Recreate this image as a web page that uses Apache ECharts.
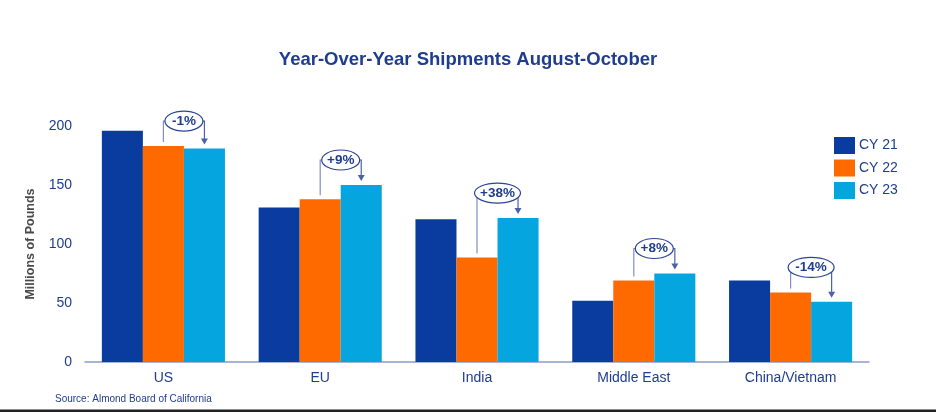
<!DOCTYPE html>
<html>
<head>
<meta charset="utf-8">
<script src="https://cdn.jsdelivr.net/npm/echarts@6/dist/echarts.min.js"></script>
<style>
  html, body { margin: 0; padding: 0; background: #ffffff; }
  #chart { width: 936px; height: 412px; }
</style>
</head>
<body>
<div id="chart"></div>
<script>
// 数据
const categories = ['US', 'EU', 'India', 'Middle East', 'China/Vietnam']
const cy21 = [196, 131, 121, 52, 69]
const cy22 = [183, 138, 88.5, 69, 59]
const cy23 = [181, 150, 122, 75, 51]
// CY22 -> CY23 变化
const changeLabels = ['-1%', '+9%', '+38%', '+8%', '-14%']
const yTicks = [0, 50, 100, 150, 200]

const textBlue = '#1f3d8f'
const barGapRatio = 0.215

const chart = echarts.init(document.getElementById('chart'))

/** 箭头标注 */
function renderChange(params, api) {
  const i = api.value(0)
  const p22 = api.coord([i, api.value(1)])
  const p23 = api.coord([i, api.value(2)])
  const band = api.size([1, 0])[0]
  const bw = band * (1 - barGapRatio) / 3
  const x22 = p22[0]
  const x23 = p22[0] + bw
  const ecx = (x22 + x23) / 2
  const ey = Math.min(p22[1], p23[1]) - 25
  const label = changeLabels[i]
  const rx = (label.length * 8 + 14) / 2
  const lineColor = '#4a62aa'
  return {
    type: 'group',
    children: [
      {
        type: 'polyline',
        shape: {points: [[x22, p22[1] - 4], [x22, ey], [ecx, ey]]},
        style: {stroke: '#7f90c4', lineWidth: 1.2, fill: null},
      },
      {
        type: 'polyline',
        shape: {points: [[ecx, ey], [x23, ey], [x23, p23[1] - 9]]},
        style: {stroke: lineColor, lineWidth: 1.2, fill: null},
      },
      {
        type: 'polygon',
        shape: {points: [[x23 - 3.5, p23[1] - 10], [x23 + 3.5, p23[1] - 10], [x23, p23[1] - 4]]},
        style: {fill: lineColor},
      },
      {
        type: 'ellipse',
        shape: {cx: ecx, cy: ey, rx: rx, ry: 10},
        style: {fill: '#ffffff', stroke: '#2a4596', lineWidth: 1.2},
      },
      {
        type: 'text',
        style: {
          x: ecx,
          y: ey,
          text: label,
          align: 'center',
          verticalAlign: 'middle',
          fill: textBlue,
          font: 'bold 13.5px "Liberation Sans", Arial, sans-serif',
        },
      },
    ],
  }
}

const option = {
  backgroundColor: '#ffffff',
  animation: false,
  textStyle: {fontFamily: '"Liberation Sans", Arial, sans-serif'},
  title: {
    text: 'Year-Over-Year Shipments August-October',
    left: 'center',
    top: 45,
    textStyle: {color: textBlue, fontSize: 18.5, fontWeight: 'bold', fontFamily: '"Liberation Sans", Arial, sans-serif'},
  },
  legend: {
    data: ['CY 21', 'CY 22', 'CY 23'],
    orient: 'vertical',
    left: 834,
    top: 137,
    padding: 0,
    itemWidth: 21,
    itemHeight: 17,
    itemGap: 5.5,
    icon: 'rect',
    textStyle: {color: textBlue, fontSize: 14, padding: [0, 0, 0, -1]},
  },
  grid: {left: 85, right: 67, top: 126, bottom: 50},
  xAxis: {
    type: 'category',
    data: categories,
    axisLine: {lineStyle: {color: '#8c9cc8', width: 1.5}},
    axisTick: {show: false},
    axisLabel: {color: textBlue, fontSize: 14, margin: 9},
  },
  yAxis: {
    type: 'value',
    min: yTicks[0],
    max: yTicks[yTicks.length - 1],
    interval: 50,
    name: 'Millions of Pounds',
    nameLocation: 'middle',
    nameGap: 48,
    nameTextStyle: {color: '#4a4a4a', fontSize: 12.5, fontWeight: 'bold'},
    axisLine: {show: false},
    axisTick: {show: false},
    splitLine: {show: false},
    axisLabel: {color: textBlue, fontSize: 14, margin: 13},
  },
  graphic: [
    {
      type: 'text',
      left: 55,
      top: 394,
      style: {text: 'Source: Almond Board of California', fill: textBlue, font: '10px "Liberation Sans", Arial, sans-serif'},
    },
    {
      type: 'rect',
      left: 0,
      bottom: 0,
      shape: {width: 936, height: 2.5},
      style: {fill: '#222222'},
    },
  ],
  series: [
    {name: 'CY 21', type: 'bar', data: cy21, barGap: 0, barCategoryGap: barGapRatio * 100 + '%', itemStyle: {color: '#0a3ca0'}},
    {name: 'CY 22', type: 'bar', data: cy22, barGap: 0, barCategoryGap: barGapRatio * 100 + '%', itemStyle: {color: '#ff6a00'}},
    {name: 'CY 23', type: 'bar', data: cy23, barGap: 0, barCategoryGap: barGapRatio * 100 + '%', itemStyle: {color: '#05a5e0'}},
    {
      name: 'change',
      type: 'custom',
      renderItem: renderChange,
      data: categories.map((c, i) => [i, cy22[i], cy23[i]]),
      z: 10,
      silent: true,
    },
  ],
}

chart.setOption(option)
</script>
</body>
</html>
